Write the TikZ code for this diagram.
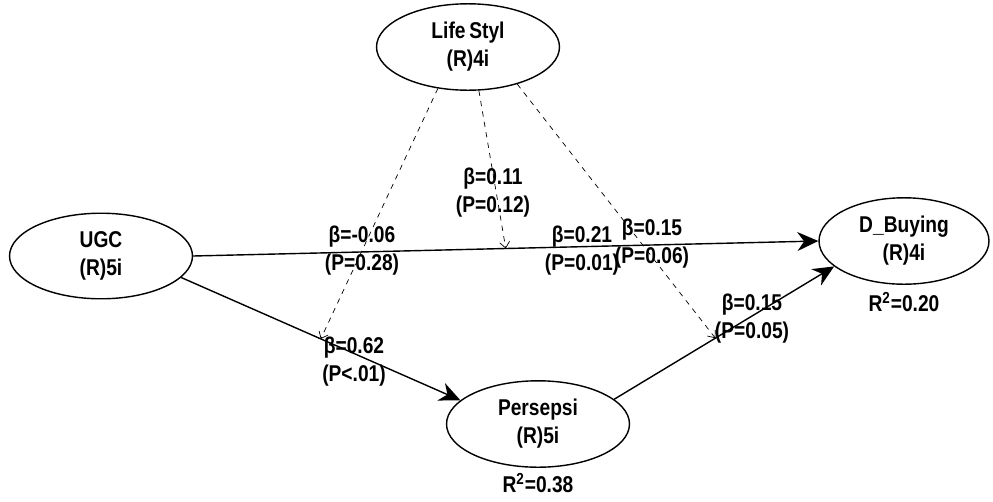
\documentclass[tikz,border=0pt]{standalone}
\usepackage{fontspec}
\setmainfont{Liberation Sans}[FakeStretch=0.84]
\usetikzlibrary{shapes.geometric,arrows.meta,positioning}
\tikzset{
    construct/.style={ellipse, draw, thick, minimum width=3.66cm, minimum height=1.62cm, align=center, font=\bfseries\fontsize{13}{16}\selectfont},
    flow/.style={-{Stealth[length=4.2mm, width=3.8mm]}, thick},
    modflow/.style={-{Straight Barb[length=1.2mm, width=2mm]}, dashed, thin},
    coef/.style={align=center, font=\bfseries\fontsize{13}{16}\selectfont, inner sep=1pt},
    rsq/.style={font=\bfseries\fontsize{13}{14}\selectfont, inner sep=1pt},
}

\begin{document}
\begin{tikzpicture}[x=0.02cm, y=-0.02cm]
    \useasboundingbox (0,0) rectangle (993,501);
    % constructs
    \node[construct] (life) at (468,47) {Life\,Styl\\(R)4i};
    \node[construct] (ugc) at (101,256) {UGC\\(R)5i};
    \node[construct] (per) at (538,424) {Persepsi\\(R)5i};
    \node[construct, minimum width=3.4cm, minimum height=1.56cm] (buy) at (904,241) {D\_Buying\\(R)4i};
    \node[rsq, below=3pt of buy] (rbuy) {R\textsuperscript{2}=0.20};
    \node[rsq, below=2pt of per] (rper) {R\textsuperscript{2}=0.38};

    % paths
    \draw[flow] (ugc.east) -- coordinate[pos=0.5] (m2) (buy.west);
    \draw[flow] (ugc.-15) -- coordinate[pos=0.5] (m1) (per.163);
    \draw[flow] (per.18) -- coordinate[pos=0.46] (m3) (buy.200);

    % moderation
    \draw[modflow] (life.-126) -- (m1);
    \draw[modflow] (life.-76) -- (m2);
    \draw[modflow] (life.-37) -- (m3);

    % coefficients
    \node[coef] (c1) at (362,251) {β=-0.06\\(P=0.28)};
    \node[coef] (c2) at (493,193) {β=0.11\\(P=0.12)};
    \node[coef] (c3) at (582,251) {β=0.21\\(P=0.01)};
    \node[coef] (c4) at (652,244) {β=0.15\\(P=0.06)};
    \node[coef] (c5) at (354,362) {β=0.62\\(P<.01)};
    \node[coef] (c6) at (752,319) {β=0.15\\(P=0.05)};
\end{tikzpicture}
\end{document}
